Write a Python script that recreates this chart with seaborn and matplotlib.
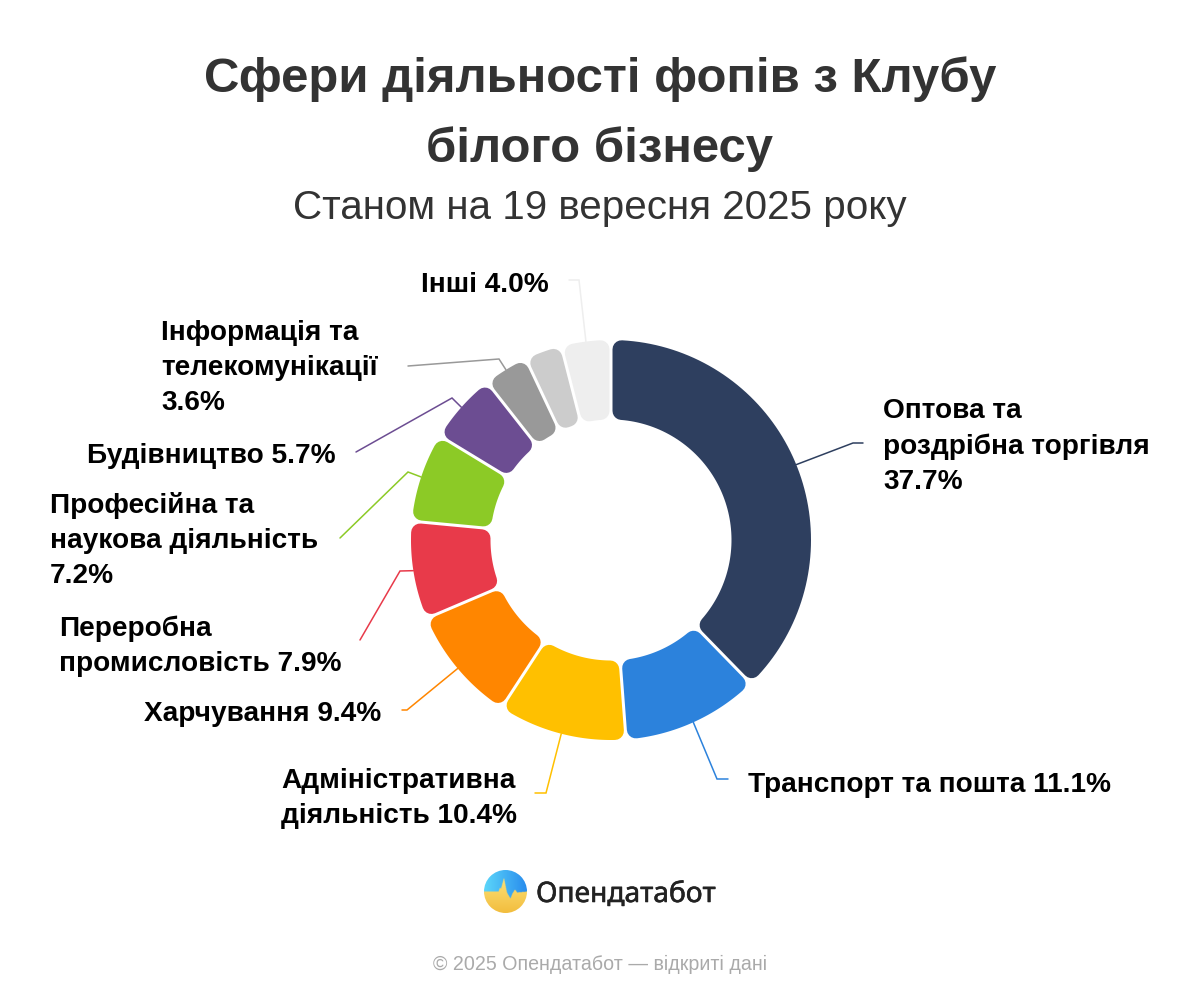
import numpy as np
import matplotlib
matplotlib.use("Agg")
import matplotlib.pyplot as plt
import matplotlib.patheffects as pe
import seaborn as sns
from matplotlib.path import Path
from matplotlib.patches import Circle

# ---------- data ----------
values = [37.7, 11.1, 10.4, 9.4, 7.9, 7.2, 5.7, 3.6, 3.0, 4.0]
colors = ["#2E3F5F", "#2C82DC", "#FFC000", "#FF8600", "#E83A4A",
          "#8CCA26", "#6C4D92", "#999999", "#CCCCCC", "#EEEEEE"]
label_templates = [
    "Оптова та\nроздрібна торгівля\n{}%",
    "Транспорт та пошта {}%",
    "Адміністративна\nдіяльність {}%",
    "Харчування {}%",
    "Переробна\nпромисловість {}%",
    "Професійна та\nнаукова діяльність\n{}%",
    "Будівництво {}%",
    "Інформація та\nтелекомунікації\n{}%",
    None,
    "Інші {}%",
]
title = "Сфери діяльності фопів з Клубу\nбілого бізнесу"
subtitle = "Станом на 19 вересня 2025 року"
brand = "Опендатабот"
footer = "© 2025 Опендатабот — відкриті дані"

# ---------- layout (pixels from the top-left corner) ----------
CX, CY, R_OUT, R_IN = 611, 540, 200, 120.5
CORNER, GAP = 9, 3
label_pos = [(883, 489), (748, 792), (281, 823), (144, 721), (59, 671),
             (50, 583), (87, 463), (161, 410), None, (421, 292)]
leaders = [[(853, 443), (863, 443)], [(717, 779), (728, 779)],
           [(546, 793), (535, 793)], [(407, 710), (402, 710)],
           [(400, 571), (360, 640)], [(408, 472), (340, 538)],
           [(452, 398), (356, 452)], [(499, 359), (408, 366)],
           None, [(579, 280), (569, 280)]]
LABEL_SIZE = 20.2
LINE_SPACING = 1.45

sns.set_theme(style="white")
plt.rcParams["font.family"] = ["Liberation Sans", "DejaVu Sans"]
palette = sns.color_palette(colors)

fig = plt.figure(figsize=(12, 10), dpi=100, facecolor="white")
ax = fig.add_axes([0, 0, 1, 1])


def Y(py):
    return 1000 - py


wedges, _ = ax.pie(values, colors=palette, startangle=90, counterclock=False,
                   center=(CX, Y(CY)), radius=R_OUT, frame=True,
                   wedgeprops=dict(width=R_OUT - R_IN))
ax.set_xlim(0, 1200)
ax.set_ylim(0, 1000)
ax.axis("off")


def rounded_ring_sector(t1, t2):
    """Ring sector with parallel gaps; the round stroke adds the corner radius."""
    off = GAP / 2 + CORNER
    ro, ri = R_OUT - CORNER, R_IN + CORNER
    a1o, a2o = np.radians(t1) + np.arcsin(off / ro), np.radians(t2) - np.arcsin(off / ro)
    a1i, a2i = np.radians(t1) + np.arcsin(off / ri), np.radians(t2) - np.arcsin(off / ri)
    ao = np.linspace(a1o, a2o, 80)
    ai = np.linspace(a2i, a1i, 80)
    xs = np.r_[CX + ro * np.cos(ao), CX + ri * np.cos(ai)]
    ys = np.r_[Y(CY) + ro * np.sin(ao), Y(CY) + ri * np.sin(ai)]
    verts = np.c_[xs, ys]
    verts = np.vstack([verts, verts[0]])
    codes = [Path.MOVETO] + [Path.LINETO] * (len(verts) - 2) + [Path.CLOSEPOLY]
    return Path(verts, codes)


for w, col in zip(wedges, palette):
    w._path = rounded_ring_sector(w.theta1, w.theta2)
    w.set_facecolor(col)
    w.set_edgecolor(col)
    w.set_linewidth(2 * CORNER * 0.72)
    w.set_joinstyle("round")

# leaders and labels
for w, col, lead, tmpl, pos, v in zip(wedges, palette, leaders, label_templates, label_pos, values):
    if lead is None:
        continue
    mid = np.radians((w.theta1 + w.theta2) / 2)
    start = (CX + R_OUT * np.cos(mid), Y(CY) + R_OUT * np.sin(mid))
    xs = [start[0]] + [p[0] for p in lead]
    ys = [start[1]] + [Y(p[1]) for p in lead]
    ax.plot(xs, ys, color=col, lw=1.1, solid_joinstyle="miter", zorder=1)
    ax.text(pos[0], Y(pos[1]), tmpl.format(v), fontsize=LABEL_SIZE, fontweight="bold",
            color="black", ha="left", va="baseline", linespacing=LINE_SPACING)

# titles
ax.text(600, Y(162), title, fontsize=35.4, fontweight="bold", color="#333333",
        ha="center", va="baseline", linespacing=1.69)
ax.text(600, Y(219), subtitle, fontsize=29.1, color="#333333", ha="center", va="baseline")

# logo
LX, LY, LR = 505.5, 891.5, 21.5
gx = np.linspace(-LR, LR, 120)
gy = np.linspace(LR, -LR, 120)
xx, yy = np.meshgrid(gx, gy)
edge_x = [-22, -7, -5.5, -4.5, -1.5, 1.5, 5, 7, 9.5, 12, 22]
edge_y = [0, 0, 4, 3, 14, -1, -7, -2, 2, -1, 0]
boundary = np.interp(xx, edge_x, edge_y)
tx = (xx + LR) / (2 * LR)
ty = (LR - yy) / (2 * LR)
blue = (1 - tx)[..., None] * np.array([0.36, 0.84, 0.98]) + tx[..., None] * np.array([0.16, 0.55, 0.93])
yellow = (1 - ty)[..., None] * np.array([1.0, 0.92, 0.52]) + ty[..., None] * np.array([0.95, 0.74, 0.24])
img = np.where((yy > boundary)[..., None], blue, yellow)
im = ax.imshow(img, extent=(LX - LR, LX + LR, Y(LY + LR), Y(LY - LR)), zorder=2,
               interpolation="bilinear")
im.set_clip_path(Circle((LX, Y(LY)), LR, transform=ax.transData))
ax.set_xlim(0, 1200)
ax.set_ylim(0, 1000)
ax.text(536, Y(902), brand, fontsize=20.3, fontfamily="Noto Sans",
        color="#222222", ha="left", va="baseline",
        path_effects=[pe.withStroke(linewidth=0.4, foreground="#222222")])
ax.text(600, Y(970), footer, fontsize=14.15, color="#AAAAAA", ha="center", va="baseline")

fig.savefig("out.png", dpi=100, facecolor="white")
